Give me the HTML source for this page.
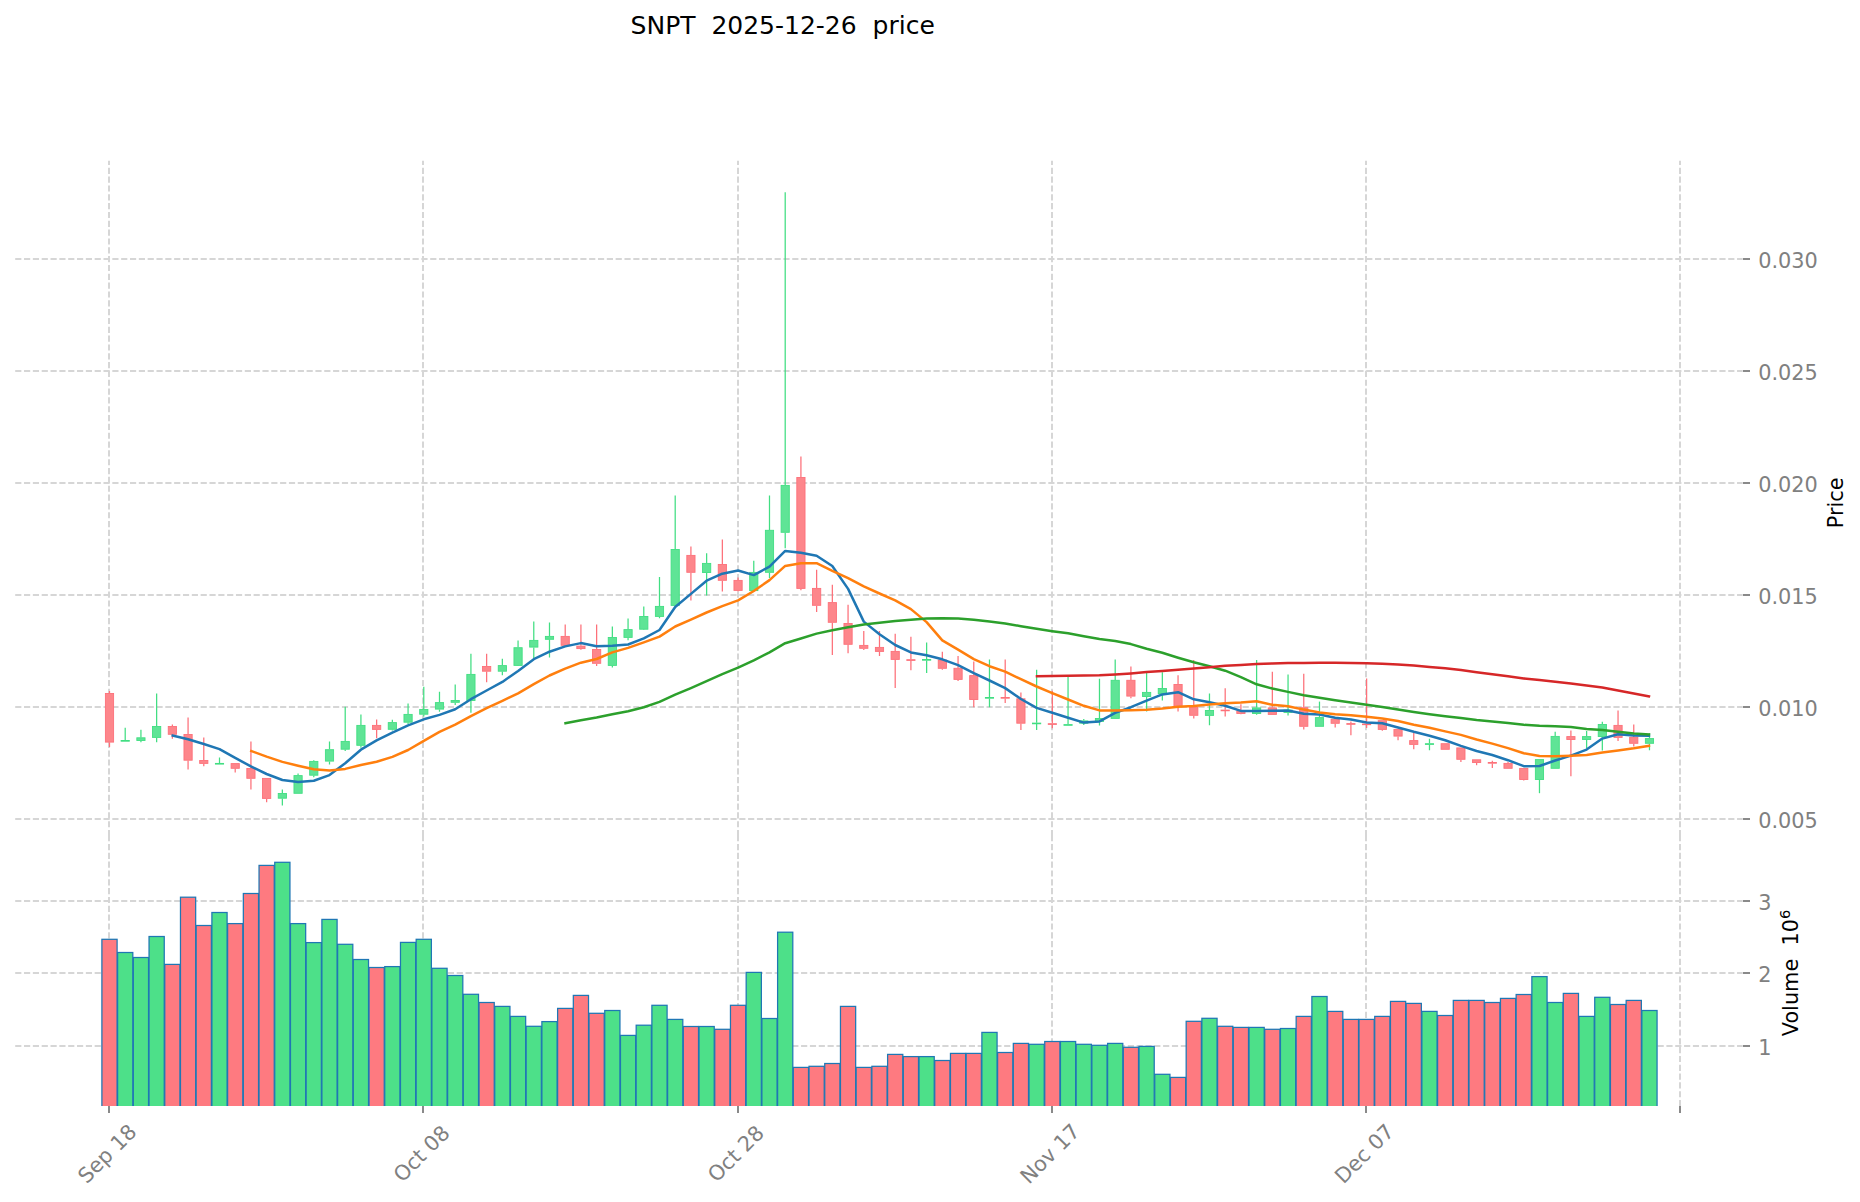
<!DOCTYPE html><html><head><meta charset="utf-8"><title>SNPT 2025-12-26 price</title>
<style>html,body{margin:0;padding:0;background:#fff}svg{display:block}text{font-family:"DejaVu Sans","Liberation Sans",sans-serif}</style></head><body>
<svg width="1860" height="1202" viewBox="0 0 1860 1202">
<rect width="1860" height="1202" fill="#fff"/>
<g stroke="#d6d6d6" stroke-width="2" stroke-dasharray="6.17 2.66" fill="none">
<path d="M109 1106.2V836.2M109 836.2V160.7"/>
<path d="M423 1106.2V836.2M423 836.2V160.7"/>
<path d="M738 1106.2V836.2M738 836.2V160.7"/>
<path d="M1052 1106.2V836.2M1052 836.2V160.7"/>
<path d="M1366 1106.2V836.2M1366 836.2V160.7"/>
<path d="M1680 1106.2V836.2M1680 836.2V160.7"/>
<line x1="15.2" y1="259" x2="1742.5" y2="259"/>
<line x1="15.2" y1="371" x2="1742.5" y2="371"/>
<line x1="15.2" y1="483" x2="1742.5" y2="483"/>
<line x1="15.2" y1="595" x2="1742.5" y2="595"/>
<line x1="15.2" y1="707" x2="1742.5" y2="707"/>
<line x1="15.2" y1="819" x2="1742.5" y2="819"/>
<line x1="15.2" y1="901" x2="1742.5" y2="901"/>
<line x1="15.2" y1="973" x2="1742.5" y2="973"/>
<line x1="15.2" y1="1046" x2="1742.5" y2="1046"/>
</g>
<g stroke="#8a8a8a" stroke-width="2">
<line x1="109" y1="1106.0" x2="109" y2="1113.0"/>
<line x1="423" y1="1106.0" x2="423" y2="1113.0"/>
<line x1="738" y1="1106.0" x2="738" y2="1113.0"/>
<line x1="1052" y1="1106.0" x2="1052" y2="1113.0"/>
<line x1="1366" y1="1106.0" x2="1366" y2="1113.0"/>
<line x1="1680" y1="1106.0" x2="1680" y2="1113.0"/>
<line x1="1742.9" y1="259" x2="1750.0" y2="259"/>
<line x1="1742.9" y1="371" x2="1750.0" y2="371"/>
<line x1="1742.9" y1="483" x2="1750.0" y2="483"/>
<line x1="1742.9" y1="595" x2="1750.0" y2="595"/>
<line x1="1742.9" y1="707" x2="1750.0" y2="707"/>
<line x1="1742.9" y1="819" x2="1750.0" y2="819"/>
<line x1="1742.9" y1="901" x2="1750.0" y2="901"/>
<line x1="1742.9" y1="973" x2="1750.0" y2="973"/>
<line x1="1742.9" y1="1046" x2="1750.0" y2="1046"/>
</g>
<clipPath id="vc"><rect x="0" y="830" width="1860" height="276.0"/></clipPath>
<g stroke="#1f77b4" stroke-width="1.25" clip-path="url(#vc)">
<rect x="101.90" y="939.3" width="15.20" height="171.3" fill="#fe7a80"/>
<rect x="117.61" y="952.5" width="15.20" height="158.1" fill="#4de089"/>
<rect x="133.33" y="957.5" width="15.20" height="153.1" fill="#4de089"/>
<rect x="149.04" y="936.5" width="15.20" height="174.1" fill="#4de089"/>
<rect x="164.76" y="964.4" width="15.20" height="146.2" fill="#fe7a80"/>
<rect x="180.47" y="897.2" width="15.20" height="213.4" fill="#fe7a80"/>
<rect x="196.18" y="925.5" width="15.20" height="185.1" fill="#fe7a80"/>
<rect x="211.90" y="912.5" width="15.20" height="198.1" fill="#4de089"/>
<rect x="227.61" y="923.6" width="15.20" height="187.0" fill="#fe7a80"/>
<rect x="243.33" y="893.5" width="15.20" height="217.1" fill="#fe7a80"/>
<rect x="259.04" y="865.4" width="15.20" height="245.2" fill="#fe7a80"/>
<rect x="274.75" y="862.3" width="15.20" height="248.3" fill="#4de089"/>
<rect x="290.47" y="923.6" width="15.20" height="187.0" fill="#4de089"/>
<rect x="306.18" y="942.6" width="15.20" height="168.0" fill="#4de089"/>
<rect x="321.90" y="919.4" width="15.20" height="191.2" fill="#4de089"/>
<rect x="337.61" y="944.3" width="15.20" height="166.3" fill="#4de089"/>
<rect x="353.32" y="959.5" width="15.20" height="151.1" fill="#4de089"/>
<rect x="369.04" y="967.5" width="15.20" height="143.1" fill="#fe7a80"/>
<rect x="384.75" y="966.6" width="15.20" height="144.0" fill="#4de089"/>
<rect x="400.47" y="942.4" width="15.20" height="168.2" fill="#4de089"/>
<rect x="416.18" y="939.3" width="15.20" height="171.3" fill="#4de089"/>
<rect x="431.89" y="968.3" width="15.20" height="142.3" fill="#4de089"/>
<rect x="447.61" y="975.5" width="15.20" height="135.1" fill="#4de089"/>
<rect x="463.32" y="994.3" width="15.20" height="116.3" fill="#4de089"/>
<rect x="479.04" y="1002.5" width="15.20" height="108.1" fill="#fe7a80"/>
<rect x="494.75" y="1006.4" width="15.20" height="104.2" fill="#4de089"/>
<rect x="510.46" y="1016.4" width="15.20" height="94.2" fill="#4de089"/>
<rect x="526.18" y="1026.3" width="15.20" height="84.3" fill="#4de089"/>
<rect x="541.89" y="1021.6" width="15.20" height="89.0" fill="#4de089"/>
<rect x="557.61" y="1008.4" width="15.20" height="102.2" fill="#fe7a80"/>
<rect x="573.32" y="995.4" width="15.20" height="115.2" fill="#fe7a80"/>
<rect x="589.03" y="1013.3" width="15.20" height="97.3" fill="#fe7a80"/>
<rect x="604.75" y="1010.5" width="15.20" height="100.1" fill="#4de089"/>
<rect x="620.46" y="1035.4" width="15.20" height="75.2" fill="#4de089"/>
<rect x="636.18" y="1025.2" width="15.20" height="85.4" fill="#4de089"/>
<rect x="651.89" y="1005.3" width="15.20" height="105.3" fill="#4de089"/>
<rect x="667.60" y="1019.4" width="15.20" height="91.2" fill="#4de089"/>
<rect x="683.32" y="1026.5" width="15.20" height="84.1" fill="#fe7a80"/>
<rect x="699.03" y="1026.5" width="15.20" height="84.1" fill="#4de089"/>
<rect x="714.75" y="1029.3" width="15.20" height="81.3" fill="#fe7a80"/>
<rect x="730.46" y="1005.3" width="15.20" height="105.3" fill="#fe7a80"/>
<rect x="746.17" y="972.4" width="15.20" height="138.2" fill="#4de089"/>
<rect x="761.89" y="1018.5" width="15.20" height="92.1" fill="#4de089"/>
<rect x="777.60" y="932.2" width="15.20" height="178.4" fill="#4de089"/>
<rect x="793.32" y="1067.4" width="15.20" height="43.2" fill="#fe7a80"/>
<rect x="809.03" y="1066.3" width="15.20" height="44.3" fill="#fe7a80"/>
<rect x="824.74" y="1063.5" width="15.20" height="47.1" fill="#fe7a80"/>
<rect x="840.46" y="1006.4" width="15.20" height="104.2" fill="#fe7a80"/>
<rect x="856.17" y="1067.4" width="15.20" height="43.2" fill="#fe7a80"/>
<rect x="871.89" y="1066.3" width="15.20" height="44.3" fill="#fe7a80"/>
<rect x="887.60" y="1054.4" width="15.20" height="56.2" fill="#fe7a80"/>
<rect x="903.31" y="1056.6" width="15.20" height="54.0" fill="#fe7a80"/>
<rect x="919.03" y="1056.6" width="15.20" height="54.0" fill="#4de089"/>
<rect x="934.74" y="1060.5" width="15.20" height="50.1" fill="#fe7a80"/>
<rect x="950.46" y="1053.4" width="15.20" height="57.2" fill="#fe7a80"/>
<rect x="966.17" y="1053.4" width="15.20" height="57.2" fill="#fe7a80"/>
<rect x="981.88" y="1032.4" width="15.20" height="78.2" fill="#4de089"/>
<rect x="997.60" y="1052.5" width="15.20" height="58.1" fill="#fe7a80"/>
<rect x="1013.31" y="1043.4" width="15.20" height="67.2" fill="#fe7a80"/>
<rect x="1029.03" y="1044.3" width="15.20" height="66.3" fill="#4de089"/>
<rect x="1044.74" y="1041.5" width="15.20" height="69.1" fill="#fe7a80"/>
<rect x="1060.45" y="1041.5" width="15.20" height="69.1" fill="#4de089"/>
<rect x="1076.17" y="1044.3" width="15.20" height="66.3" fill="#4de089"/>
<rect x="1091.88" y="1045.3" width="15.20" height="65.3" fill="#4de089"/>
<rect x="1107.60" y="1043.4" width="15.20" height="67.2" fill="#4de089"/>
<rect x="1123.31" y="1047.3" width="15.20" height="63.3" fill="#fe7a80"/>
<rect x="1139.02" y="1046.4" width="15.20" height="64.2" fill="#4de089"/>
<rect x="1154.74" y="1074.3" width="15.20" height="36.3" fill="#4de089"/>
<rect x="1170.45" y="1077.4" width="15.20" height="33.2" fill="#fe7a80"/>
<rect x="1186.17" y="1021.3" width="15.20" height="89.3" fill="#fe7a80"/>
<rect x="1201.88" y="1018.3" width="15.20" height="92.3" fill="#4de089"/>
<rect x="1217.59" y="1026.3" width="15.20" height="84.3" fill="#fe7a80"/>
<rect x="1233.31" y="1027.4" width="15.20" height="83.2" fill="#fe7a80"/>
<rect x="1249.02" y="1027.4" width="15.20" height="83.2" fill="#4de089"/>
<rect x="1264.74" y="1029.3" width="15.20" height="81.3" fill="#fe7a80"/>
<rect x="1280.45" y="1028.5" width="15.20" height="82.1" fill="#4de089"/>
<rect x="1296.16" y="1016.4" width="15.20" height="94.2" fill="#fe7a80"/>
<rect x="1311.88" y="996.5" width="15.20" height="114.1" fill="#4de089"/>
<rect x="1327.59" y="1011.4" width="15.20" height="99.2" fill="#fe7a80"/>
<rect x="1343.31" y="1019.4" width="15.20" height="91.2" fill="#fe7a80"/>
<rect x="1359.02" y="1019.4" width="15.20" height="91.2" fill="#fe7a80"/>
<rect x="1374.73" y="1016.4" width="15.20" height="94.2" fill="#fe7a80"/>
<rect x="1390.45" y="1001.4" width="15.20" height="109.2" fill="#fe7a80"/>
<rect x="1406.16" y="1003.4" width="15.20" height="107.2" fill="#fe7a80"/>
<rect x="1421.88" y="1011.4" width="15.20" height="99.2" fill="#4de089"/>
<rect x="1437.59" y="1015.5" width="15.20" height="95.1" fill="#fe7a80"/>
<rect x="1453.30" y="1000.4" width="15.20" height="110.2" fill="#fe7a80"/>
<rect x="1469.02" y="1000.4" width="15.20" height="110.2" fill="#fe7a80"/>
<rect x="1484.73" y="1002.5" width="15.20" height="108.1" fill="#fe7a80"/>
<rect x="1500.45" y="998.4" width="15.20" height="112.2" fill="#fe7a80"/>
<rect x="1516.16" y="994.5" width="15.20" height="116.1" fill="#fe7a80"/>
<rect x="1531.87" y="976.6" width="15.20" height="134.0" fill="#4de089"/>
<rect x="1547.59" y="1002.5" width="15.20" height="108.1" fill="#4de089"/>
<rect x="1563.30" y="993.4" width="15.20" height="117.2" fill="#fe7a80"/>
<rect x="1579.02" y="1016.4" width="15.20" height="94.2" fill="#4de089"/>
<rect x="1594.73" y="997.3" width="15.20" height="113.3" fill="#4de089"/>
<rect x="1610.44" y="1004.5" width="15.20" height="106.1" fill="#fe7a80"/>
<rect x="1626.16" y="1000.4" width="15.20" height="110.2" fill="#fe7a80"/>
<rect x="1641.87" y="1010.5" width="15.20" height="100.1" fill="#4de089"/>
</g>
<path d="M109.50 691.1V693.1M109.50 742.5V746.9" stroke="#fd7079" stroke-width="1.25" fill="none"/>
<rect x="105.40" y="693.5" width="8.20" height="48.6" fill="#fd868b" stroke="#fd7079" stroke-width="0.9"/>
<path d="M125.21 727.7V740.1M125.21 740.9V740.9" stroke="#41de82" stroke-width="1.25" fill="none"/>
<rect x="121.11" y="740.5" width="8.20" height="0.7" fill="#5fe496" stroke="#41de82" stroke-width="0.9"/>
<path d="M140.93 729.7V737.4M140.93 740.9V742.3" stroke="#41de82" stroke-width="1.25" fill="none"/>
<rect x="136.83" y="737.8" width="8.20" height="2.7" fill="#5fe496" stroke="#41de82" stroke-width="0.9"/>
<path d="M156.64 693.5V726.1M156.64 737.8V742.3" stroke="#41de82" stroke-width="1.25" fill="none"/>
<rect x="152.54" y="726.5" width="8.20" height="10.9" fill="#5fe496" stroke="#41de82" stroke-width="0.9"/>
<path d="M172.36 724.4V726.1M172.36 734.6V738.7" stroke="#fd7079" stroke-width="1.25" fill="none"/>
<rect x="168.26" y="726.5" width="8.20" height="7.8" fill="#fd868b" stroke="#fd7079" stroke-width="0.9"/>
<path d="M188.07 717.6V734.1M188.07 760.6V769.4" stroke="#fd7079" stroke-width="1.25" fill="none"/>
<rect x="183.97" y="734.5" width="8.20" height="25.7" fill="#fd868b" stroke="#fd7079" stroke-width="0.9"/>
<path d="M203.78 737.4V760.1M203.78 763.7V766.3" stroke="#fd7079" stroke-width="1.25" fill="none"/>
<rect x="199.68" y="760.5" width="8.20" height="2.9" fill="#fd868b" stroke="#fd7079" stroke-width="0.9"/>
<path d="M219.50 757.5V763.0M219.50 764.1V764.1" stroke="#41de82" stroke-width="1.25" fill="none"/>
<rect x="215.40" y="763.4" width="8.20" height="0.7" fill="#5fe496" stroke="#41de82" stroke-width="0.9"/>
<path d="M235.21 763.2V763.2M235.21 768.6V772.5" stroke="#fd7079" stroke-width="1.25" fill="none"/>
<rect x="231.11" y="763.6" width="8.20" height="4.7" fill="#fd868b" stroke="#fd7079" stroke-width="0.9"/>
<path d="M250.93 741.4V768.1M250.93 778.7V789.5" stroke="#fd7079" stroke-width="1.25" fill="none"/>
<rect x="246.83" y="768.5" width="8.20" height="9.8" fill="#fd868b" stroke="#fd7079" stroke-width="0.9"/>
<path d="M266.64 778.0V778.0M266.64 798.8V802.3" stroke="#fd7079" stroke-width="1.25" fill="none"/>
<rect x="262.54" y="778.4" width="8.20" height="20.0" fill="#fd868b" stroke="#fd7079" stroke-width="0.9"/>
<path d="M282.35 789.5V793.1M282.35 798.6V805.4" stroke="#41de82" stroke-width="1.25" fill="none"/>
<rect x="278.25" y="793.5" width="8.20" height="4.7" fill="#5fe496" stroke="#41de82" stroke-width="0.9"/>
<path d="M298.07 773.6V775.2M298.07 793.7V793.7" stroke="#41de82" stroke-width="1.25" fill="none"/>
<rect x="293.97" y="775.6" width="8.20" height="17.7" fill="#5fe496" stroke="#41de82" stroke-width="0.9"/>
<path d="M313.78 760.2V761.0M313.78 775.6V777.2" stroke="#41de82" stroke-width="1.25" fill="none"/>
<rect x="309.68" y="761.4" width="8.20" height="13.8" fill="#5fe496" stroke="#41de82" stroke-width="0.9"/>
<path d="M329.50 741.4V749.3M329.50 761.5V764.4" stroke="#41de82" stroke-width="1.25" fill="none"/>
<rect x="325.40" y="749.7" width="8.20" height="11.4" fill="#5fe496" stroke="#41de82" stroke-width="0.9"/>
<path d="M345.21 706.7V741.0M345.21 749.6V751.1" stroke="#41de82" stroke-width="1.25" fill="none"/>
<rect x="341.11" y="741.4" width="8.20" height="7.8" fill="#5fe496" stroke="#41de82" stroke-width="0.9"/>
<path d="M360.92 714.5V725.0M360.92 745.6V747.8" stroke="#41de82" stroke-width="1.25" fill="none"/>
<rect x="356.82" y="725.4" width="8.20" height="19.9" fill="#5fe496" stroke="#41de82" stroke-width="0.9"/>
<path d="M376.64 719.5V725.0M376.64 729.7V738.3" stroke="#fd7079" stroke-width="1.25" fill="none"/>
<rect x="372.54" y="725.4" width="8.20" height="4.0" fill="#fd868b" stroke="#fd7079" stroke-width="0.9"/>
<path d="M392.35 719.7V722.2M392.35 729.7V730.4" stroke="#41de82" stroke-width="1.25" fill="none"/>
<rect x="388.25" y="722.6" width="8.20" height="6.7" fill="#5fe496" stroke="#41de82" stroke-width="0.9"/>
<path d="M408.07 703.4V714.0M408.07 722.6V724.0" stroke="#41de82" stroke-width="1.25" fill="none"/>
<rect x="403.97" y="714.4" width="8.20" height="7.8" fill="#5fe496" stroke="#41de82" stroke-width="0.9"/>
<path d="M423.78 686.8V709.1M423.78 714.6V716.4" stroke="#41de82" stroke-width="1.25" fill="none"/>
<rect x="419.68" y="709.5" width="8.20" height="4.7" fill="#5fe496" stroke="#41de82" stroke-width="0.9"/>
<path d="M439.49 691.7V702.2M439.49 709.5V711.8" stroke="#41de82" stroke-width="1.25" fill="none"/>
<rect x="435.39" y="702.6" width="8.20" height="6.5" fill="#5fe496" stroke="#41de82" stroke-width="0.9"/>
<path d="M455.21 684.4V700.1M455.21 702.7V705.1" stroke="#41de82" stroke-width="1.25" fill="none"/>
<rect x="451.11" y="700.5" width="8.20" height="1.8" fill="#5fe496" stroke="#41de82" stroke-width="0.9"/>
<path d="M470.92 653.7V674.0M470.92 700.9V712.8" stroke="#41de82" stroke-width="1.25" fill="none"/>
<rect x="466.82" y="674.4" width="8.20" height="26.1" fill="#5fe496" stroke="#41de82" stroke-width="0.9"/>
<path d="M486.64 653.7V666.1M486.64 671.6V682.2" stroke="#fd7079" stroke-width="1.25" fill="none"/>
<rect x="482.54" y="666.5" width="8.20" height="4.7" fill="#fd868b" stroke="#fd7079" stroke-width="0.9"/>
<path d="M502.35 658.8V665.2M502.35 671.6V675.3" stroke="#41de82" stroke-width="1.25" fill="none"/>
<rect x="498.25" y="665.6" width="8.20" height="5.6" fill="#5fe496" stroke="#41de82" stroke-width="0.9"/>
<path d="M518.06 640.5V647.3M518.06 665.8V666.1" stroke="#41de82" stroke-width="1.25" fill="none"/>
<rect x="513.96" y="647.7" width="8.20" height="17.7" fill="#5fe496" stroke="#41de82" stroke-width="0.9"/>
<path d="M533.78 621.4V640.0M533.78 647.5V657.9" stroke="#41de82" stroke-width="1.25" fill="none"/>
<rect x="529.68" y="640.4" width="8.20" height="6.7" fill="#5fe496" stroke="#41de82" stroke-width="0.9"/>
<path d="M549.49 622.6V636.0M549.49 639.6V657.6" stroke="#41de82" stroke-width="1.25" fill="none"/>
<rect x="545.39" y="636.4" width="8.20" height="2.9" fill="#5fe496" stroke="#41de82" stroke-width="0.9"/>
<path d="M565.21 624.5V636.0M565.21 645.7V645.7" stroke="#fd7079" stroke-width="1.25" fill="none"/>
<rect x="561.11" y="636.4" width="8.20" height="8.9" fill="#fd868b" stroke="#fd7079" stroke-width="0.9"/>
<path d="M580.92 624.5V645.7M580.92 649.0V649.7" stroke="#fd7079" stroke-width="1.25" fill="none"/>
<rect x="576.82" y="646.1" width="8.20" height="2.5" fill="#fd868b" stroke="#fd7079" stroke-width="0.9"/>
<path d="M596.63 624.5V649.1M596.63 663.8V666.1" stroke="#fd7079" stroke-width="1.25" fill="none"/>
<rect x="592.53" y="649.5" width="8.20" height="13.8" fill="#fd868b" stroke="#fd7079" stroke-width="0.9"/>
<path d="M612.35 626.5V637.1M612.35 665.8V667.4" stroke="#41de82" stroke-width="1.25" fill="none"/>
<rect x="608.25" y="637.5" width="8.20" height="27.9" fill="#5fe496" stroke="#41de82" stroke-width="0.9"/>
<path d="M628.06 618.6V629.2M628.06 637.8V640.2" stroke="#41de82" stroke-width="1.25" fill="none"/>
<rect x="623.96" y="629.6" width="8.20" height="7.8" fill="#5fe496" stroke="#41de82" stroke-width="0.9"/>
<path d="M643.78 606.4V616.1M643.78 629.6V630.1" stroke="#41de82" stroke-width="1.25" fill="none"/>
<rect x="639.68" y="616.5" width="8.20" height="12.7" fill="#5fe496" stroke="#41de82" stroke-width="0.9"/>
<path d="M659.49 577.1V606.0M659.49 616.8V618.2" stroke="#41de82" stroke-width="1.25" fill="none"/>
<rect x="655.39" y="606.4" width="8.20" height="10.0" fill="#5fe496" stroke="#41de82" stroke-width="0.9"/>
<path d="M675.20 495.4V549.1M675.20 605.8V605.8" stroke="#41de82" stroke-width="1.25" fill="none"/>
<rect x="671.10" y="549.5" width="8.20" height="55.9" fill="#5fe496" stroke="#41de82" stroke-width="0.9"/>
<path d="M690.92 546.4V555.0M690.92 572.7V600.5" stroke="#fd7079" stroke-width="1.25" fill="none"/>
<rect x="686.82" y="555.4" width="8.20" height="16.9" fill="#fd868b" stroke="#fd7079" stroke-width="0.9"/>
<path d="M706.63 553.3V563.0M706.63 572.9V595.4" stroke="#41de82" stroke-width="1.25" fill="none"/>
<rect x="702.53" y="563.4" width="8.20" height="9.1" fill="#5fe496" stroke="#41de82" stroke-width="0.9"/>
<path d="M722.35 539.6V564.1M722.35 580.8V591.4" stroke="#fd7079" stroke-width="1.25" fill="none"/>
<rect x="718.25" y="564.5" width="8.20" height="15.8" fill="#fd868b" stroke="#fd7079" stroke-width="0.9"/>
<path d="M738.06 577.5V580.0M738.06 590.8V591.4" stroke="#fd7079" stroke-width="1.25" fill="none"/>
<rect x="733.96" y="580.4" width="8.20" height="10.0" fill="#fd868b" stroke="#fd7079" stroke-width="0.9"/>
<path d="M753.77 560.7V572.0M753.77 591.0V591.0" stroke="#41de82" stroke-width="1.25" fill="none"/>
<rect x="749.67" y="572.4" width="8.20" height="18.2" fill="#5fe496" stroke="#41de82" stroke-width="0.9"/>
<path d="M769.49 495.4V529.9M769.49 572.7V578.0" stroke="#41de82" stroke-width="1.25" fill="none"/>
<rect x="765.39" y="530.3" width="8.20" height="42.0" fill="#5fe496" stroke="#41de82" stroke-width="0.9"/>
<path d="M785.20 192.3V485.0M785.20 532.7V548.2" stroke="#41de82" stroke-width="1.25" fill="none"/>
<rect x="781.10" y="485.4" width="8.20" height="46.9" fill="#5fe496" stroke="#41de82" stroke-width="0.9"/>
<path d="M800.92 456.5V477.1M800.92 588.8V590.3" stroke="#fd7079" stroke-width="1.25" fill="none"/>
<rect x="796.82" y="477.5" width="8.20" height="110.9" fill="#fd868b" stroke="#fd7079" stroke-width="0.9"/>
<path d="M816.63 569.7V588.0M816.63 605.7V612.1" stroke="#fd7079" stroke-width="1.25" fill="none"/>
<rect x="812.53" y="588.4" width="8.20" height="16.9" fill="#fd868b" stroke="#fd7079" stroke-width="0.9"/>
<path d="M832.34 584.7V602.2M832.34 622.7V655.1" stroke="#fd7079" stroke-width="1.25" fill="none"/>
<rect x="828.24" y="602.6" width="8.20" height="19.7" fill="#fd868b" stroke="#fd7079" stroke-width="0.9"/>
<path d="M848.06 604.8V623.1M848.06 644.6V653.2" stroke="#fd7079" stroke-width="1.25" fill="none"/>
<rect x="843.96" y="623.5" width="8.20" height="20.8" fill="#fd868b" stroke="#fd7079" stroke-width="0.9"/>
<path d="M863.77 630.9V645.0M863.77 648.7V649.9" stroke="#fd7079" stroke-width="1.25" fill="none"/>
<rect x="859.67" y="645.4" width="8.20" height="2.9" fill="#fd868b" stroke="#fd7079" stroke-width="0.9"/>
<path d="M879.49 630.9V647.0M879.49 651.8V656.0" stroke="#fd7079" stroke-width="1.25" fill="none"/>
<rect x="875.39" y="647.4" width="8.20" height="4.0" fill="#fd868b" stroke="#fd7079" stroke-width="0.9"/>
<path d="M895.20 633.7V651.0M895.20 659.8V688.0" stroke="#fd7079" stroke-width="1.25" fill="none"/>
<rect x="891.10" y="651.4" width="8.20" height="8.0" fill="#fd868b" stroke="#fd7079" stroke-width="0.9"/>
<path d="M910.91 636.8V659.3M910.91 660.5V670.2" stroke="#fd7079" stroke-width="1.25" fill="none"/>
<rect x="906.81" y="659.7" width="8.20" height="0.7" fill="#fd868b" stroke="#fd7079" stroke-width="0.9"/>
<path d="M926.63 642.6V659.1M926.63 660.5V673.0" stroke="#41de82" stroke-width="1.25" fill="none"/>
<rect x="922.53" y="659.5" width="8.20" height="0.7" fill="#5fe496" stroke="#41de82" stroke-width="0.9"/>
<path d="M942.34 651.8V659.6M942.34 668.8V669.7" stroke="#fd7079" stroke-width="1.25" fill="none"/>
<rect x="938.24" y="660.0" width="8.20" height="8.3" fill="#fd868b" stroke="#fd7079" stroke-width="0.9"/>
<path d="M958.06 656.0V667.9M958.06 679.7V681.0" stroke="#fd7079" stroke-width="1.25" fill="none"/>
<rect x="953.96" y="668.3" width="8.20" height="11.1" fill="#fd868b" stroke="#fd7079" stroke-width="0.9"/>
<path d="M973.77 661.5V675.2M973.77 699.9V707.2" stroke="#fd7079" stroke-width="1.25" fill="none"/>
<rect x="969.67" y="675.6" width="8.20" height="23.9" fill="#fd868b" stroke="#fd7079" stroke-width="0.9"/>
<path d="M989.48 659.6V697.1M989.48 698.6V707.2" stroke="#41de82" stroke-width="1.25" fill="none"/>
<rect x="985.38" y="697.5" width="8.20" height="0.7" fill="#5fe496" stroke="#41de82" stroke-width="0.9"/>
<path d="M1005.20 659.6V697.1M1005.20 698.4V703.1" stroke="#fd7079" stroke-width="1.25" fill="none"/>
<rect x="1001.10" y="697.5" width="8.20" height="0.7" fill="#fd868b" stroke="#fd7079" stroke-width="0.9"/>
<path d="M1020.91 692.5V698.4M1020.91 723.6V730.0" stroke="#fd7079" stroke-width="1.25" fill="none"/>
<rect x="1016.81" y="698.8" width="8.20" height="24.4" fill="#fd868b" stroke="#fd7079" stroke-width="0.9"/>
<path d="M1036.63 669.7V722.7M1036.63 724.0V730.0" stroke="#41de82" stroke-width="1.25" fill="none"/>
<rect x="1032.53" y="723.1" width="8.20" height="0.7" fill="#5fe496" stroke="#41de82" stroke-width="0.9"/>
<path d="M1052.34 690.7V723.3M1052.34 724.5V728.2" stroke="#fd7079" stroke-width="1.25" fill="none"/>
<rect x="1048.24" y="723.7" width="8.20" height="0.7" fill="#fd868b" stroke="#fd7079" stroke-width="0.9"/>
<path d="M1068.05 677.0V724.2M1068.05 725.6V725.6" stroke="#41de82" stroke-width="1.25" fill="none"/>
<rect x="1063.95" y="724.6" width="8.20" height="0.7" fill="#5fe496" stroke="#41de82" stroke-width="0.9"/>
<path d="M1083.77 719.0V720.5M1083.77 723.6V725.1" stroke="#41de82" stroke-width="1.25" fill="none"/>
<rect x="1079.67" y="720.9" width="8.20" height="2.3" fill="#5fe496" stroke="#41de82" stroke-width="0.9"/>
<path d="M1099.48 678.8V718.1M1099.48 721.8V725.4" stroke="#41de82" stroke-width="1.25" fill="none"/>
<rect x="1095.38" y="718.5" width="8.20" height="2.9" fill="#5fe496" stroke="#41de82" stroke-width="0.9"/>
<path d="M1115.20 659.4V679.9M1115.20 718.8V718.8" stroke="#41de82" stroke-width="1.25" fill="none"/>
<rect x="1111.10" y="680.3" width="8.20" height="38.1" fill="#5fe496" stroke="#41de82" stroke-width="0.9"/>
<path d="M1130.91 666.4V679.9M1130.91 696.5V698.2" stroke="#fd7079" stroke-width="1.25" fill="none"/>
<rect x="1126.81" y="680.3" width="8.20" height="15.8" fill="#fd868b" stroke="#fd7079" stroke-width="0.9"/>
<path d="M1146.62 673.1V692.0M1146.62 696.9V711.5" stroke="#41de82" stroke-width="1.25" fill="none"/>
<rect x="1142.52" y="692.4" width="8.20" height="4.1" fill="#5fe496" stroke="#41de82" stroke-width="0.9"/>
<path d="M1162.34 672.2V688.1M1162.34 694.1V700.5" stroke="#41de82" stroke-width="1.25" fill="none"/>
<rect x="1158.24" y="688.5" width="8.20" height="5.2" fill="#5fe496" stroke="#41de82" stroke-width="0.9"/>
<path d="M1178.05 675.3V684.1M1178.05 706.9V711.5" stroke="#fd7079" stroke-width="1.25" fill="none"/>
<rect x="1173.95" y="684.5" width="8.20" height="22.1" fill="#fd868b" stroke="#fd7079" stroke-width="0.9"/>
<path d="M1193.77 660.0V706.9M1193.77 715.7V718.5" stroke="#fd7079" stroke-width="1.25" fill="none"/>
<rect x="1189.67" y="707.3" width="8.20" height="8.0" fill="#fd868b" stroke="#fd7079" stroke-width="0.9"/>
<path d="M1209.48 693.6V710.1M1209.48 715.7V725.2" stroke="#41de82" stroke-width="1.25" fill="none"/>
<rect x="1205.38" y="710.5" width="8.20" height="4.9" fill="#5fe496" stroke="#41de82" stroke-width="0.9"/>
<path d="M1225.19 688.3V709.7M1225.19 711.0V716.5" stroke="#fd7079" stroke-width="1.25" fill="none"/>
<rect x="1221.09" y="710.1" width="8.20" height="0.7" fill="#fd868b" stroke="#fd7079" stroke-width="0.9"/>
<path d="M1240.91 704.2V710.6M1240.91 713.9V714.3" stroke="#fd7079" stroke-width="1.25" fill="none"/>
<rect x="1236.81" y="711.0" width="8.20" height="2.5" fill="#fd868b" stroke="#fd7079" stroke-width="0.9"/>
<path d="M1256.62 660.0V707.5M1256.62 713.9V714.8" stroke="#41de82" stroke-width="1.25" fill="none"/>
<rect x="1252.52" y="707.9" width="8.20" height="5.6" fill="#5fe496" stroke="#41de82" stroke-width="0.9"/>
<path d="M1272.34 671.7V707.5M1272.34 714.8V714.8" stroke="#fd7079" stroke-width="1.25" fill="none"/>
<rect x="1268.24" y="707.9" width="8.20" height="6.5" fill="#fd868b" stroke="#fd7079" stroke-width="0.9"/>
<path d="M1288.05 674.6V709.7M1288.05 712.8V715.5" stroke="#41de82" stroke-width="1.25" fill="none"/>
<rect x="1283.95" y="710.1" width="8.20" height="2.3" fill="#5fe496" stroke="#41de82" stroke-width="0.9"/>
<path d="M1303.76 673.7V707.3M1303.76 726.7V729.4" stroke="#fd7079" stroke-width="1.25" fill="none"/>
<rect x="1299.66" y="707.7" width="8.20" height="18.6" fill="#fd868b" stroke="#fd7079" stroke-width="0.9"/>
<path d="M1319.48 701.6V717.2M1319.48 726.7V726.7" stroke="#41de82" stroke-width="1.25" fill="none"/>
<rect x="1315.38" y="717.6" width="8.20" height="8.7" fill="#5fe496" stroke="#41de82" stroke-width="0.9"/>
<path d="M1335.19 717.0V718.8M1335.19 723.8V727.4" stroke="#fd7079" stroke-width="1.25" fill="none"/>
<rect x="1331.09" y="719.2" width="8.20" height="4.1" fill="#fd868b" stroke="#fd7079" stroke-width="0.9"/>
<path d="M1350.91 721.6V723.2M1350.91 724.3V735.3" stroke="#fd7079" stroke-width="1.25" fill="none"/>
<rect x="1346.81" y="723.6" width="8.20" height="0.7" fill="#fd868b" stroke="#fd7079" stroke-width="0.9"/>
<path d="M1366.62 678.6V723.6M1366.62 724.9V728.0" stroke="#fd7079" stroke-width="1.25" fill="none"/>
<rect x="1362.52" y="724.0" width="8.20" height="0.7" fill="#fd868b" stroke="#fd7079" stroke-width="0.9"/>
<path d="M1382.33 720.3V720.3M1382.33 729.8V730.7" stroke="#fd7079" stroke-width="1.25" fill="none"/>
<rect x="1378.23" y="720.7" width="8.20" height="8.7" fill="#fd868b" stroke="#fd7079" stroke-width="0.9"/>
<path d="M1398.05 729.0V729.0M1398.05 736.5V740.2" stroke="#fd7079" stroke-width="1.25" fill="none"/>
<rect x="1393.95" y="729.4" width="8.20" height="6.7" fill="#fd868b" stroke="#fd7079" stroke-width="0.9"/>
<path d="M1413.76 732.7V740.2M1413.76 744.8V749.3" stroke="#fd7079" stroke-width="1.25" fill="none"/>
<rect x="1409.66" y="740.6" width="8.20" height="3.8" fill="#fd868b" stroke="#fd7079" stroke-width="0.9"/>
<path d="M1429.48 738.7V743.3M1429.48 744.6V750.2" stroke="#41de82" stroke-width="1.25" fill="none"/>
<rect x="1425.38" y="743.7" width="8.20" height="0.7" fill="#5fe496" stroke="#41de82" stroke-width="0.9"/>
<path d="M1445.19 743.3V743.3M1445.19 749.7V749.7" stroke="#fd7079" stroke-width="1.25" fill="none"/>
<rect x="1441.09" y="743.7" width="8.20" height="5.6" fill="#fd868b" stroke="#fd7079" stroke-width="0.9"/>
<path d="M1460.90 747.5V747.5M1460.90 759.7V762.1" stroke="#fd7079" stroke-width="1.25" fill="none"/>
<rect x="1456.80" y="747.9" width="8.20" height="11.4" fill="#fd868b" stroke="#fd7079" stroke-width="0.9"/>
<path d="M1476.62 759.4V759.4M1476.62 762.9V765.2" stroke="#fd7079" stroke-width="1.25" fill="none"/>
<rect x="1472.52" y="759.8" width="8.20" height="2.7" fill="#fd868b" stroke="#fd7079" stroke-width="0.9"/>
<path d="M1492.33 760.7V762.1M1492.33 763.4V768.0" stroke="#fd7079" stroke-width="1.25" fill="none"/>
<rect x="1488.23" y="762.5" width="8.20" height="0.7" fill="#fd868b" stroke="#fd7079" stroke-width="0.9"/>
<path d="M1508.05 762.1V763.0M1508.05 768.7V768.7" stroke="#fd7079" stroke-width="1.25" fill="none"/>
<rect x="1503.95" y="763.4" width="8.20" height="4.9" fill="#fd868b" stroke="#fd7079" stroke-width="0.9"/>
<path d="M1523.76 768.0V768.0M1523.76 779.9V780.4" stroke="#fd7079" stroke-width="1.25" fill="none"/>
<rect x="1519.66" y="768.4" width="8.20" height="11.1" fill="#fd868b" stroke="#fd7079" stroke-width="0.9"/>
<path d="M1539.47 759.2V759.2M1539.47 779.9V793.2" stroke="#41de82" stroke-width="1.25" fill="none"/>
<rect x="1535.37" y="759.6" width="8.20" height="19.9" fill="#5fe496" stroke="#41de82" stroke-width="0.9"/>
<path d="M1555.19 731.8V736.0M1555.19 768.7V768.7" stroke="#41de82" stroke-width="1.25" fill="none"/>
<rect x="1551.09" y="736.4" width="8.20" height="31.9" fill="#5fe496" stroke="#41de82" stroke-width="0.9"/>
<path d="M1570.90 730.5V736.2M1570.90 739.8V776.2" stroke="#fd7079" stroke-width="1.25" fill="none"/>
<rect x="1566.80" y="736.6" width="8.20" height="2.9" fill="#fd868b" stroke="#fd7079" stroke-width="0.9"/>
<path d="M1586.62 730.9V736.2M1586.62 739.8V747.9" stroke="#41de82" stroke-width="1.25" fill="none"/>
<rect x="1582.52" y="736.6" width="8.20" height="2.9" fill="#5fe496" stroke="#41de82" stroke-width="0.9"/>
<path d="M1602.33 721.7V724.1M1602.33 736.9V750.6" stroke="#41de82" stroke-width="1.25" fill="none"/>
<rect x="1598.23" y="724.5" width="8.20" height="12.0" fill="#5fe496" stroke="#41de82" stroke-width="0.9"/>
<path d="M1618.04 710.4V725.0M1618.04 737.8V741.1" stroke="#fd7079" stroke-width="1.25" fill="none"/>
<rect x="1613.94" y="725.4" width="8.20" height="12.0" fill="#fd868b" stroke="#fd7079" stroke-width="0.9"/>
<path d="M1633.76 724.5V736.9M1633.76 743.7V746.6" stroke="#fd7079" stroke-width="1.25" fill="none"/>
<rect x="1629.66" y="737.3" width="8.20" height="6.0" fill="#fd868b" stroke="#fd7079" stroke-width="0.9"/>
<path d="M1649.47 733.2V738.2M1649.47 743.7V750.2" stroke="#41de82" stroke-width="1.25" fill="none"/>
<rect x="1645.37" y="738.6" width="8.20" height="4.7" fill="#5fe496" stroke="#41de82" stroke-width="0.9"/>
<polyline points="171.5,735.3 172.4,735.5 188.1,739.2 203.8,744.0 219.5,749.1 235.2,757.9 250.9,766.4 266.6,774.0 282.4,780.0 298.1,782.1 313.8,780.7 329.5,775.1 345.2,763.3 360.9,749.7 376.6,740.4 392.4,732.6 408.1,725.4 423.8,719.3 439.5,714.9 455.2,709.2 470.9,699.2 486.6,690.5 502.4,681.9 518.1,670.9 533.8,659.2 549.5,651.7 565.2,646.4 580.9,643.1 596.6,646.2 612.3,645.7 628.1,644.5 643.8,638.4 659.5,630.0 675.2,607.0 690.9,593.9 706.6,580.7 722.3,573.7 738.1,570.5 753.8,575.1 769.5,566.6 785.2,550.9 800.9,552.8 816.6,555.7 832.3,566.0 848.1,588.9 863.8,621.6 879.5,634.2 895.2,645.0 910.9,652.4 926.6,655.2 942.3,659.3 958.1,665.1 973.8,673.2 989.5,680.5 1005.2,688.1 1020.9,699.0 1036.6,707.9 1052.3,712.7 1068.1,717.8 1083.8,722.6 1099.5,721.4 1115.2,712.9 1130.9,707.2 1146.6,700.7 1162.3,694.4 1178.1,692.2 1193.8,699.3 1209.5,702.2 1225.2,705.7 1240.9,710.9 1256.6,711.0 1272.3,710.7 1288.0,710.5 1303.8,713.8 1319.5,714.6 1335.2,717.7 1350.9,719.6 1366.6,722.6 1382.3,723.2 1398.0,727.5 1413.8,731.8 1429.5,735.7 1445.2,740.2 1460.9,745.9 1476.6,751.0 1492.3,755.0 1508.0,760.2 1523.8,766.2 1539.5,766.0 1555.2,760.5 1570.9,755.6 1586.6,749.6 1602.3,738.6 1618.0,734.2 1633.8,735.6 1649.5,735.7 1650.2,735.7" fill="none" stroke="#1f77b4" stroke-width="2.5" stroke-linejoin="round" stroke-linecap="butt"/>
<polyline points="250.1,750.6 250.9,750.9 266.6,756.6 282.4,761.9 298.1,765.7 313.8,769.2 329.5,770.6 345.2,768.9 360.9,765.0 376.6,761.7 392.4,756.9 408.1,750.0 423.8,740.8 439.5,731.9 455.2,724.7 470.9,716.2 486.6,708.2 502.4,700.8 518.1,693.3 533.8,684.2 549.5,675.5 565.2,668.7 580.9,662.7 596.6,659.0 612.3,652.4 628.1,647.9 643.8,642.4 659.5,636.6 675.2,626.5 690.9,619.7 706.6,612.5 722.3,606.2 738.1,600.3 753.8,591.0 769.5,580.1 785.2,565.9 800.9,563.2 816.6,563.2 832.3,570.8 848.1,578.2 863.8,586.4 879.5,593.5 895.2,600.3 910.9,609.1 926.6,622.1 942.3,640.4 958.1,649.6 973.8,659.1 989.5,666.2 1005.2,671.6 1020.9,679.2 1036.6,686.5 1052.3,693.1 1068.1,699.5 1083.8,705.8 1099.5,710.4 1115.2,710.6 1130.9,710.2 1146.6,709.7 1162.3,708.6 1178.1,706.8 1193.8,706.0 1209.5,704.6 1225.2,703.3 1240.9,702.5 1256.6,701.3 1272.3,704.8 1288.0,706.2 1303.8,709.6 1319.5,712.6 1335.2,714.3 1350.9,715.2 1366.6,716.7 1382.3,718.6 1398.0,721.0 1413.8,724.7 1429.5,727.8 1445.2,731.4 1460.9,734.9 1476.6,739.5 1492.3,743.6 1508.0,748.1 1523.8,753.3 1539.5,756.1 1555.2,756.2 1570.9,755.7 1586.6,754.9 1602.3,752.6 1618.0,750.4 1633.8,748.3 1649.5,745.7 1650.2,745.6" fill="none" stroke="#ff7f0e" stroke-width="2.5" stroke-linejoin="round" stroke-linecap="butt"/>
<polyline points="564.3,723.5 565.2,723.3 580.9,720.3 596.6,717.5 612.3,714.2 628.1,711.2 643.8,707.2 659.5,701.9 675.2,694.6 690.9,688.1 706.6,681.2 722.3,674.2 738.1,667.7 753.8,660.3 769.5,652.3 785.2,643.2 800.9,638.5 816.6,633.6 832.3,630.2 848.1,627.2 863.8,624.6 879.5,622.7 895.2,621.1 910.9,619.8 926.6,618.5 942.3,618.2 958.1,618.5 973.8,619.7 989.5,621.5 1005.2,623.4 1020.9,626.2 1036.6,628.8 1052.3,631.2 1068.1,633.3 1083.8,636.2 1099.5,638.9 1115.2,641.0 1130.9,644.1 1146.6,648.8 1162.3,652.8 1178.1,657.7 1193.8,662.3 1209.5,666.3 1225.2,670.7 1240.9,677.2 1256.6,684.3 1272.3,688.5 1288.0,691.9 1303.8,695.3 1319.5,697.7 1335.2,700.2 1350.9,702.5 1366.6,704.7 1382.3,707.1 1398.0,709.6 1413.8,712.1 1429.5,714.3 1445.2,716.2 1460.9,718.1 1476.6,720.1 1492.3,721.5 1508.0,723.1 1523.8,724.8 1539.5,725.8 1555.2,726.2 1570.9,727.1 1586.6,728.9 1602.3,730.0 1618.0,731.7 1633.8,733.5 1649.5,734.5 1650.2,734.6" fill="none" stroke="#2ca02c" stroke-width="2.5" stroke-linejoin="round" stroke-linecap="butt"/>
<polyline points="1035.7,676.2 1036.6,676.2 1052.3,676.0 1068.1,675.8 1083.8,675.5 1099.5,675.3 1115.2,674.4 1130.9,673.4 1146.6,672.1 1162.3,670.9 1178.1,669.7 1193.8,668.6 1209.5,667.3 1225.2,665.8 1240.9,665.0 1256.6,664.1 1272.3,663.5 1288.0,663.0 1303.8,662.9 1319.5,662.7 1335.2,662.8 1350.9,663.0 1366.6,663.3 1382.3,663.7 1398.0,664.4 1413.8,665.6 1429.5,666.9 1445.2,668.2 1460.9,670.1 1476.6,672.2 1492.3,674.3 1508.0,676.3 1523.8,678.4 1539.5,680.0 1555.2,681.8 1570.9,683.6 1586.6,685.5 1602.3,687.5 1618.0,690.6 1633.8,693.5 1649.5,696.4 1650.2,696.6" fill="none" stroke="#d62728" stroke-width="2.5" stroke-linejoin="round" stroke-linecap="butt"/>
<text x="782.7" y="34.4" font-size="25" text-anchor="middle" fill="#000" xml:space="preserve" style="white-space:pre">SNPT  2025-12-26  price</text>
<g font-size="20.83" fill="#808080">
<text x="1758.2" y="267.7">0.030</text>
<text x="1758.2" y="379.7">0.025</text>
<text x="1758.2" y="491.7">0.020</text>
<text x="1758.2" y="603.7">0.015</text>
<text x="1758.2" y="715.7">0.010</text>
<text x="1758.2" y="827.7">0.005</text>
<text x="1758.2" y="909.7">3</text>
<text x="1758.2" y="981.8">2</text>
<text x="1758.2" y="1054.7">1</text>
</g>
<g font-size="20.83" fill="#000" text-anchor="middle">
<text transform="translate(1843.3,502.8) rotate(-90)">Price</text>
<text transform="translate(1798.3,973) rotate(-90)" xml:space="preserve" style="white-space:pre">Volume  10<tspan font-size="14.58" dy="-7.9">6</tspan></text>
</g>
<g font-size="20.83" fill="#808080" text-anchor="middle">
<text transform="translate(107.0,1153.5) rotate(-45)" dy="7.5">Sep 18</text>
<text transform="translate(421.3,1153.5) rotate(-45)" dy="7.5">Oct 08</text>
<text transform="translate(735.6,1153.5) rotate(-45)" dy="7.5">Oct 28</text>
<text transform="translate(1049.8,1153.5) rotate(-45)" dy="7.5">Nov 17</text>
<text transform="translate(1364.1,1153.5) rotate(-45)" dy="7.5">Dec 07</text>
</g>
</svg></body></html>
